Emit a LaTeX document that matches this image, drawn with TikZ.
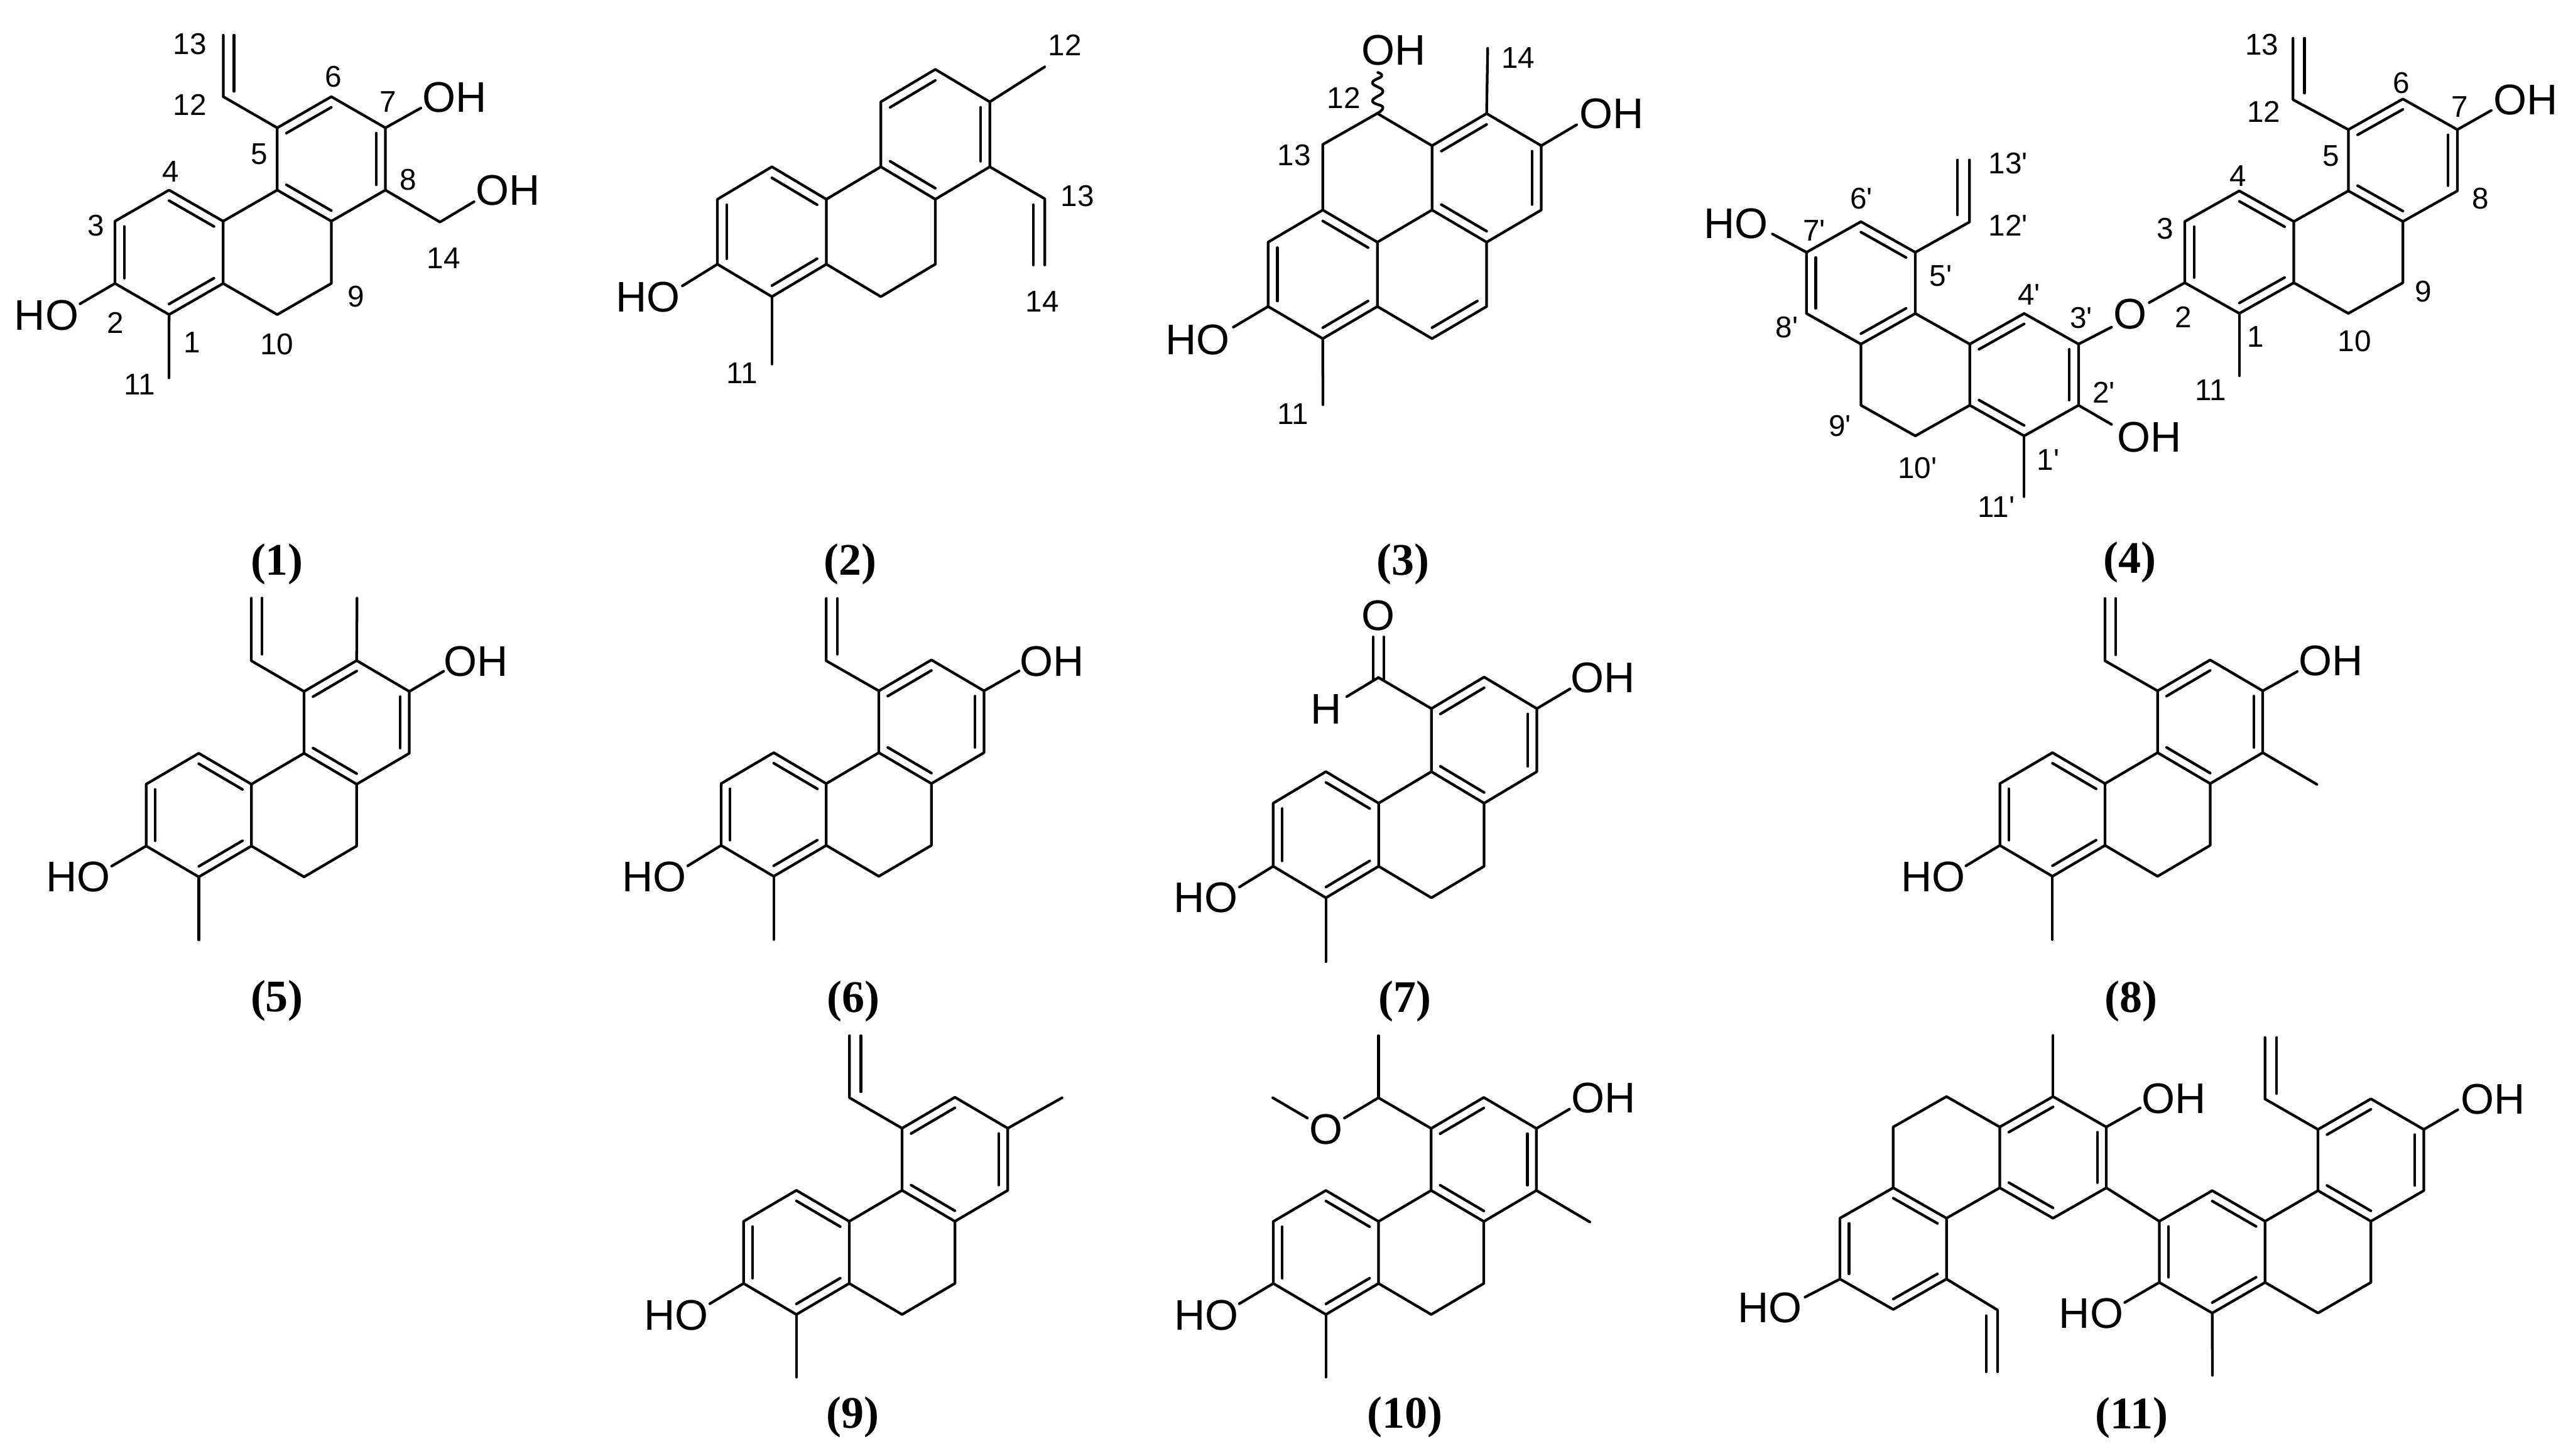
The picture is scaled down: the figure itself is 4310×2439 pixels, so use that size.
\documentclass[tikz,border=0pt]{standalone}
\usepackage{fontspec}
\usetikzlibrary{calc}
\newfontfamily\arialish{Liberation Sans}
\newfontfamily\timesish{Liberation Serif}
\tikzset{
  bond/.style={draw=black,line width=1.12bp,line cap=round,line join=round},
  atomlab/.style={inner sep=0pt,font=\arialish\fontsize{18}{18}\selectfont},
  numlab/.style={inner sep=0pt,font=\arialish\fontsize{12.6}{13}\selectfont},
  cmpdlab/.style={inner sep=0pt,font=\timesish\bfseries\fontsize{19}{19}\selectfont},
}
% inner line of a double bond, pulled towards a ring centre
\newcommand{\dbl}[3]{\draw[bond] ($(#1)!.17!(#3)$) -- ($(#2)!.17!(#3)$);}
% dihydrophenanthrene skeleton: prefix, x, y of C1, xscale, yscale
\newcommand{\phen}[5]{%
  \begin{scope}[shift={(#2,#3)},xscale=#4,yscale=#5]
    \coordinate (#1c1) at (0,0);
    \coordinate (#1c2) at (-90.6,-52.3);
    \coordinate (#1c3) at (-90.6,-156.9);
    \coordinate (#1c4) at (0,-209.2);
    \coordinate (#1c4a) at (90.6,-156.9);
    \coordinate (#1c10a) at (90.6,-52.3);
    \coordinate (#1c10) at (181.2,0);
    \coordinate (#1c9) at (271.8,-52.3);
    \coordinate (#1c8a) at (271.8,-156.9);
    \coordinate (#1c4b) at (181.2,-209.2);
    \coordinate (#1c5) at (181.2,-313.8);
    \coordinate (#1c6) at (271.8,-366.1);
    \coordinate (#1c7) at (362.4,-313.8);
    \coordinate (#1c8) at (362.4,-209.2);
    \coordinate (#1ra) at (0,-104.6);
    \coordinate (#1rb) at (181.2,-104.6);
    \coordinate (#1rc) at (271.8,-261.5);
  \end{scope}
  \draw[bond] (#1c1)--(#1c2)--(#1c3)--(#1c4)--(#1c4a)--(#1c10a)--cycle;
  \draw[bond] (#1c4a)--(#1c4b)--(#1c8a)--(#1c9)--(#1c10)--(#1c10a);
  \draw[bond] (#1c4b)--(#1c5)--(#1c6)--(#1c7)--(#1c8)--(#1c8a);
  \dbl{#1c1}{#1c10a}{#1ra}\dbl{#1c2}{#1c3}{#1ra}\dbl{#1c4}{#1c4a}{#1ra}
  \dbl{#1c4b}{#1c8a}{#1rc}\dbl{#1c5}{#1c6}{#1rc}\dbl{#1c7}{#1c8}{#1rc}
}
% single bond from a named atom to a new named end: from, name, x, y
\newcommand{\subst}[4]{\coordinate (#2) at (#3,#4); \draw[bond] (#1)--(#2);}
% vinyl: prefix, from, x, y12, y13, x of inner line, y of inner line start
\newcommand{\vinyl}[7]{%
  \coordinate (#1v12) at (#3,#4); \coordinate (#1v13) at (#3,#5);
  \coordinate (#1v12i) at (#6,#7); \coordinate (#1v13i) at (#6,#5);
  \draw[bond] (#2)--(#1v12)--(#1v13); \draw[bond] (#1v12i)--(#1v13i);}
\newcommand{\atm}[4]{\node[atomlab] (#1) at (#2,#3) {#4};}
\newcommand{\num}[4]{\node[numlab] (#1) at (#2,#3) {#4};}
\newcommand{\cmpd}[4]{\node[cmpdlab] (#1) at (#2,#3) {#4};}
\begin{document}
\begin{tikzpicture}[x=0.25bp,y=-0.25bp]
\useasboundingbox (0,0) rectangle (4310,2439);
% ---------- (1)
\phen{a}{283.2}{527}{1}{.997}
\vinyl{a}{ac5}{374}{162}{59}{392}{153}
\subst{ac2}{aho}{134}{509}\atm{aHO}{78}{528}{HO}
\subst{ac1}{ame}{283}{633}
\subst{ac7}{aoh}{705}{181}\atm{aOH}{761}{163}{OH}
\coordinate (ac14) at (737,372);
\coordinate (aoh2) at (794,338);
\draw[bond] (ac8)--(ac14)--(aoh2);
\atm{aOHb}{851}{319}{OH}
\num{an13}{318}{74}{13}\num{an12}{318}{176}{12}\num{an6}{558}{128}{6}
\num{an7}{650}{171}{7}\num{an5}{434}{258}{5}\num{an4}{286}{287}{4}
\num{an8}{684}{301}{8}\num{an3}{161}{378}{3}\num{an14}{743}{433}{14}
\num{an9}{596}{497}{9}\num{an2}{193}{541}{2}\num{an1}{322}{574}{1}
\num{an10}{464}{577}{10}\num{an11}{234}{644}{11}
\cmpd{acmp}{464}{945}{(1)}
% ---------- (2)
\phen{b}{1293}{497}{1.007}{1.04}
\vinyl{b}{bc8}{1750}{333}{444}{1731}{343}
\subst{bc7}{bme2}{1750}{112}
\subst{bc1}{bme}{1293}{610}
\subst{bc2}{bho}{1143}{479}\atm{bHO}{1085}{498}{HO}
\num{bn12}{1784}{76}{12}\num{bn13}{1805}{328}{13}\num{bn14}{1746}{505}{14}\num{bn11}{1243}{625}{11}
\cmpd{bcmp}{1424}{945}{(2)}
% ---------- (3)
\phen{c}{2215.7}{567.3}{1.01}{1.03}
\dbl{cc9}{cc10}{crb}
\coordinate (cc12) at (2307,190);
\coordinate (cc13) at (2215.7,242);
\draw[bond] (cc4)--(cc13)--(cc12)--(cc5);
\subst{cc6}{cme2}{2492}{81}
\subst{cc1}{cme}{2216}{678}
\subst{cc7}{coh}{2641}{209}\atm{cOH}{2700}{191}{OH}
\subst{cc2}{cho}{2066}{548}\atm{cHO}{2006.5}{569}{HO}
\draw[bond] plot[smooth,tension=.8] coordinates {(2307,190) (2316.5,179.6) (2299,169) (2316.5,153) (2299,139) (2314.5,127.5) (2308,121.5)};
\atm{cOHb}{2334}{84}{OH}
\num{cn14}{2543}{97}{14}\num{cn12}{2251}{164}{12}\num{cn13}{2168}{260}{13}\num{cn11}{2166}{693}{11}
\cmpd{ccmp}{2350}{945}{(3)}
% ---------- (4)
\phen{d}{3751}{525}{1.008}{.981}
\phen{e}{3390.6}{730.2}{-1.006}{.98}
\vinyl{d}{dc5}{3841}{167}{64}{3860}{156}
\vinyl{e}{ec5}{3299}{372}{268}{3279}{360}
\subst{dc1}{dme}{3751}{629.5}
\subst{ec1}{eme}{3390.6}{832}
\subst{dc7}{doh}{4173}{185}\atm{dOH}{4231}{167}{OH}
\subst{ec2}{eoh}{3537}{711}\atm{eOH}{3600}{732}{OH}
\subst{ec7}{eho}{2969}{392}\atm{eHO}{2908}{375}{HO}
\atm{dO}{3568}{526}{O}
\subst{dc2}{dob}{3600}{507}
\subst{ec3}{eob}{3537}{548}
\num{dn13}{3789}{75}{13}\num{dn12}{3792}{187}{12}\num{dn6}{4022}{139}{6}
\num{dn7}{4120}{179}{7}\num{dn5}{3905}{261}{5}\num{dn4}{3749}{295}{4}
\num{dn8}{4155}{333}{8}\num{dn3}{3627}{383}{3}\num{dn9}{4059}{488}{9}
\num{dn2}{3657}{531}{2}\num{dn1}{3778}{564}{1}\num{dn10}{3944}{571}{10}
\num{dn11}{3703}{654}{11}
\num{en13}{3364}{274}{13'}\num{en6}{3118}{333}{6'}\num{en12}{3364}{378}{12'}
\num{en7}{3039}{386}{7'}\num{en5}{3251}{462}{5'}\num{en4}{3399}{494}{4'}
\num{en8}{2993}{548}{8'}\num{en3}{3486}{533}{3'}\num{en2}{3524}{658}{2'}
\num{en9}{3082}{714}{9'}\num{en1}{3431}{770}{1'}\num{en10}{3212}{784}{10'}
\num{en11}{3344}{849}{11'}
\cmpd{dcmp}{3568}{942}{(4)}
% ---------- (5)
\phen{f}{333}{1469}{.973}{.99}
\vinyl{f}{fc5}{421}{1107}{1002}{439}{1096}
\subst{fc6}{fme2}{598}{1002}
\subst{fc7}{foh}{743}{1124.5}\atm{fOH}{797}{1108}{OH}
\subst{fc2}{fho}{187}{1451}\atm{fHO}{131}{1469}{HO}
\subst{fc1}{fme}{333}{1574.5}
\cmpd{fcmp}{464}{1676}{(5)}
% ---------- (6)
\phen{g}{1296}{1468}{.972}{.99}
\vinyl{g}{gc5}{1384}{1107}{1002.5}{1403}{1096}
\subst{gc7}{goh}{1707}{1124}\atm{gOH}{1762}{1108}{OH}
\subst{gc2}{gho}{1152}{1450.5}\atm{gHO}{1096}{1469}{HO}
\subst{gc1}{gme}{1296}{1574}
\cmpd{gcmp}{1429}{1678}{(6)}
% ---------- (7)
\phen{h}{2221}{1504}{.975}{1.01}
\coordinate (hcho) at (2309,1135);
\draw[bond] (hc5)--(hcho);
\coordinate (hdo1) at (2300,1067);\coordinate (hdc1) at (2300,1139);
\coordinate (hdo2) at (2318,1067);\coordinate (hdc2) at (2318,1139);
\draw[bond] (hdc1)--(hdo1); \draw[bond] (hdc2)--(hdo2);
\atm{hO}{2309}{1031}{O}
\subst{hcho}{hhb}{2256}{1167}\atm{hH}{2221}{1188}{H}
\subst{hc7}{hoh}{2630}{1154}\atm{hOH}{2685}{1135}{OH}
\subst{hc2}{hho}{2076}{1486}\atm{hHO}{2020}{1504}{HO}
\subst{hc1}{hme}{2221}{1611}
\cmpd{hcmp}{2353}{1678}{(7)}
% ---------- (8)
\phen{i}{3438}{1468}{.972}{.99}
\vinyl{i}{ic5}{3526}{1107}{1002.5}{3544}{1097}
\subst{ic7}{ioh}{3848}{1125}\atm{iOH}{3904}{1107}{OH}
\subst{ic8}{ime2}{3881}{1314}
\subst{ic2}{iho}{3293}{1450.5}\atm{iHO}{3238}{1469}{HO}
\subst{ic1}{ime}{3438}{1574}
\cmpd{icmp}{3570}{1678}{(8)}
% ---------- (9)
\phen{j}{1334}{2202}{.977}{.994}
\vinyl{j}{jc5}{1423}{1839}{1735}{1442}{1829}
\subst{jc7}{jme2}{1779}{1839}
\subst{jc2}{jho}{1189}{2184}\atm{jHO}{1133}{2203}{HO}
\subst{jc1}{jme}{1334}{2307}
\cmpd{jcmp}{1428}{2374}{(9)}
% ---------- (10)
\phen{k}{2221}{2202}{.973}{.993}
\coordinate (kc12) at (2309,1839);
\draw[bond] (kc5)--(kc12);
\subst{kc12}{kme3}{2309}{1735}
\subst{kc12}{kob}{2252}{1873}
\atm{kO}{2221}{1891.5}{O}
\coordinate (kmo1) at (2190,1873);\coordinate (kmo2) at (2132,1839);
\draw[bond] (kmo1)--(kmo2);
\subst{kc7}{koh}{2629}{1858}\atm{kOH}{2686}{1839.5}{OH}
\subst{kc8}{kme2}{2663}{2047}
\subst{kc2}{kho}{2076}{2184}\atm{kHO}{2021}{2203}{HO}
\subst{kc1}{kme}{2221}{2307}
\cmpd{kcmp}{2353}{2374}{(10)}
% ---------- (11)
\phen{m}{3705.6}{2199.6}{.978}{.98}
\phen{n}{3439}{1837}{-.985}{-.974}
\draw[bond] (mc3)--(nc3);
\vinyl{m}{mc5}{3794}{1841}{1738}{3813.5}{1832}
\vinyl{n}{nc5}{3346}{2194.5}{2298}{3327}{2204}
\subst{mc7}{moh}{4117}{1859}\atm{mOH}{4176}{1841}{OH}
\subst{mc2}{mho}{3559}{2182}\atm{mHO}{3503}{2200}{HO}
\subst{mc1}{mme}{3706}{2304}
\subst{nc1}{nme}{3439}{1734.5}
\subst{nc2}{noh}{3585}{1856}\atm{nOH}{3641}{1840}{OH}
\subst{nc7}{nho}{3023.5}{2173}\atm{nHO}{2965}{2191}{HO}
\cmpd{mcmp}{3571}{2375}{(11)}
\end{tikzpicture}
\end{document}
